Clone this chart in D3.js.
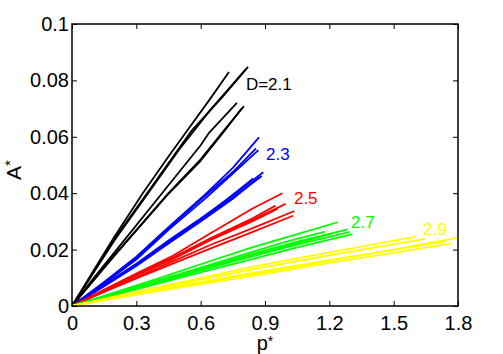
<!DOCTYPE html>
<html>
<head>
<meta charset="utf-8">
<script src="https://cdn.jsdelivr.net/npm/d3@7"></script>
<style>
  body { margin: 0; background: #fff; }
  text { font-family: "Liberation Sans", Arial, sans-serif; }
</style>
</head>
<body>
<script>
// curves, [p*, A*] pairs, grouped by D
var runsD21 = [
	[[0,0],[0.1,0.0125],[0.2,0.0248],[0.33,0.040],[0.45,0.053],[0.54,0.0625],[0.64,0.073],[0.732,0.083]],
	[[0,0],[0.1,0.012],[0.2,0.024],[0.35,0.040],[0.5,0.056],[0.56,0.0624],[0.7,0.074],[0.821,0.0848]],
	[[0,0],[0.1,0.0118],[0.2,0.0235],[0.35,0.0395],[0.5,0.0555],[0.65,0.070],[0.811,0.084]],
	[[0,0],[0.1,0.0098],[0.2,0.0192],[0.42,0.040],[0.6,0.057],[0.64,0.0615],[0.769,0.072]],
	[[0,0],[0.1,0.0092],[0.2,0.0182],[0.45,0.040],[0.6,0.052],[0.71,0.0624],[0.802,0.0709]],
	[[0,0],[0.1,0.009],[0.2,0.018],[0.45,0.0398],[0.6,0.0515],[0.71,0.062],[0.793,0.0702]]
];
var runsD23 = [
	[[0,0],[0.15,0.0085],[0.3,0.0175],[0.45,0.028],[0.62,0.0395],[0.75,0.049],[0.872,0.0598]],
	[[0,0],[0.15,0.0083],[0.3,0.017],[0.45,0.0275],[0.62,0.039],[0.75,0.0475],[0.858,0.0559]],
	[[0,0],[0.15,0.008],[0.3,0.0165],[0.45,0.027],[0.62,0.038],[0.75,0.047],[0.869,0.0553]],
	[[0,0],[0.15,0.0075],[0.3,0.015],[0.45,0.0232],[0.6,0.031],[0.75,0.0392],[0.892,0.0474]],
	[[0,0],[0.15,0.0072],[0.3,0.0145],[0.45,0.0225],[0.6,0.0303],[0.75,0.0385],[0.885,0.0461]],
	[[0,0],[0.15,0.007],[0.3,0.0142],[0.45,0.0222],[0.6,0.030],[0.75,0.038],[0.873,0.0456]],
	[[0,0],[0.15,0.0073],[0.3,0.0148],[0.45,0.0228],[0.6,0.0306],[0.75,0.0395],[0.845,0.0452]]
];
var runsD25 = [
	[[0,0],[0.15,0.0058],[0.3,0.0115],[0.47,0.0178],[0.65,0.026],[0.84,0.0345],[0.981,0.040]],
	[[0,0],[0.15,0.0055],[0.3,0.011],[0.47,0.017],[0.65,0.024],[0.84,0.0305],[0.996,0.0362]],
	[[0,0],[0.15,0.0056],[0.3,0.0112],[0.47,0.0172],[0.65,0.0242],[0.84,0.031],[0.949,0.0356]],
	[[0,0],[0.15,0.0052],[0.3,0.0102],[0.47,0.0158],[0.65,0.0218],[0.84,0.0275],[1.037,0.0337]],
	[[0,0],[0.15,0.005],[0.3,0.0098],[0.47,0.015],[0.65,0.0205],[0.84,0.0262],[1.031,0.032]],
	[[0,0],[0.15,0.0054],[0.3,0.0108],[0.47,0.0166],[0.65,0.0235],[0.84,0.030],[0.96,0.0345]]
];
var runsD27 = [
	[[0,0],[0.2,0.0048],[0.4,0.0097],[0.6,0.0148],[0.84,0.0208],[1.05,0.0255],[1.239,0.0297]],
	[[0,0],[0.2,0.0043],[0.4,0.0087],[0.6,0.0131],[0.84,0.0185],[1.05,0.0228],[1.286,0.0272]],
	[[0,0],[0.2,0.0041],[0.4,0.0083],[0.6,0.0126],[0.84,0.0176],[1.05,0.0218],[1.296,0.0263]],
	[[0,0],[0.2,0.0039],[0.4,0.0079],[0.6,0.0119],[0.84,0.0166],[1.05,0.0208],[1.308,0.0255]],
	[[0,0],[0.2,0.0045],[0.4,0.009],[0.6,0.0136],[0.84,0.0192],[1.0,0.0228],[1.18,0.0264]],
	[[0,0],[0.2,0.0042],[0.4,0.0085],[0.6,0.0129],[0.84,0.018],[1.05,0.0223],[1.22,0.0258]]
];
var runsD29 = [
	[[0,0],[0.2,0.0034],[0.5,0.0083],[0.84,0.0139],[1.2,0.019],[1.604,0.0246]],
	[[0,0],[0.2,0.0032],[0.5,0.0078],[0.84,0.013],[1.2,0.018],[1.646,0.0238]],
	[[0,0],[0.2,0.0029],[0.5,0.0071],[0.84,0.0117],[1.2,0.0163],[1.739,0.0228]],
	[[0,0],[0.2,0.0028],[0.5,0.0068],[0.84,0.0112],[1.2,0.016],[1.5,0.02],[1.8,0.0242]],
	[[0,0],[0.2,0.0027],[0.5,0.0065],[0.84,0.0106],[1.2,0.0153],[1.5,0.0188],[1.77,0.0222]]
];

var groupNames = ['D=2.1', '2.3', '2.5', '2.7', '2.9'];
// where each group's name sits, in data units
var labelP = [0.811, 0.905, 1.035, 1.301, 1.637];
var labelA = [0.0766, 0.0518, 0.0362, 0.0277, 0.0252];

var xTicks = [0, 0.3, 0.6, 0.9, 1.2, 1.5, 1.8];
var yTicks = [0, 0.02, 0.04, 0.06, 0.08, 0.1];

var groupColours = ['#000000', '#0000ff', '#ff0000', '#00ff00', '#ffff00'];
var allRuns = [runsD21, runsD23, runsD25, runsD27, runsD29];

var margin = { top: 24, right: 45, bottom: 48, left: 72 };
var width = 503 - margin.left - margin.right;
var height = 354 - margin.top - margin.bottom;

var svg = d3.select('body').append('svg')
	.attr('width', 503)
	.attr('height', 354);

var g = svg.append('g')
	.attr('transform', `translate(${margin.left}, ${margin.top})`);

var xScale = d3.scaleLinear().domain([0, 1.8]).range([0, width]);
var yScale = d3.scaleLinear().domain([0, 0.1]).range([height, 0]);

svg.append('defs').append('clipPath').attr('id', 'plot')
	.append('rect').attr('width', width).attr('height', height);

var valueLine = d3.line()
	.x(function(d) { return xScale(d[0]); })
	.y(function(d) { return yScale(d[1]); });

var lines = g.append('g').attr('clip-path', 'url(#plot)');
allRuns.forEach(function(runs, i) {
	lines.selectAll(null)
		.data(runs)
		.enter().append('path')
		.attr('fill', 'none')
		.attr('stroke', groupColours[i])
		.attr('stroke-width', 1.8)
		.attr('stroke-linejoin', 'round')
		.attr('d', valueLine);
});

// group names next to the curve ends
g.selectAll('.lab')
	.data(groupNames)
	.enter().append('text')
	.attr('class', 'lab')
	.attr('x', function(d, i) { return xScale(labelP[i]); })
	.attr('y', function(d, i) { return yScale(labelA[i]); })
	.attr('fill', function(d, i) { return groupColours[i]; })
	.style('font-size', '17px')
	.text(function(d) { return d; });

// axes, ticks pointing inward, box on all four sides
function styleAxis(sel) {
	sel.select('.domain').remove();
	sel.selectAll('.tick line').attr('stroke', '#000').attr('stroke-width', 1);
	sel.selectAll('.tick text').style('font-size', '20px').attr('fill', '#000')
		.style('font-family', '"Liberation Sans", Arial, sans-serif');
}

g.append('g')
	.attr('transform', `translate(0, ${height})`)
	.call(d3.axisBottom(xScale).tickValues(xTicks).tickSize(-5).tickPadding(10).tickFormat(function(d) { return String(d); }))
	.call(styleAxis);

g.append('g')
	.call(d3.axisLeft(yScale).tickValues(yTicks).tickSize(-5).tickPadding(3).tickFormat(function(d) { return String(d); }))
	.call(styleAxis);

g.append('g')
	.call(d3.axisTop(xScale).tickValues(xTicks).tickSize(-5).tickFormat(''))
	.call(styleAxis);

g.append('g')
	.attr('transform', `translate(${width}, 0)`)
	.call(d3.axisRight(yScale).tickValues(yTicks).tickSize(-5).tickFormat(''))
	.call(styleAxis);

g.append('rect')
	.attr('width', width)
	.attr('height', height)
	.attr('fill', 'none')
	.attr('stroke', '#000')
	.attr('stroke-width', 1.5);

// axis titles
var xl = g.append('text')
	.attr('x', width / 2)
	.attr('y', height + 44)
	.attr('text-anchor', 'middle')
	.style('font-size', '20px');
xl.append('tspan').text('p');
xl.append('tspan').attr('dy', -4).style('font-size', '14px').text('*');

var yl = svg.append('text')
	.attr('transform', 'translate(21, 170) rotate(-90)')
	.attr('text-anchor', 'middle')
	.style('font-size', '21px');
yl.append('tspan').text('A');
yl.append('tspan').attr('dy', -6).style('font-size', '15px').text('*');
</script>
</body>
</html>
